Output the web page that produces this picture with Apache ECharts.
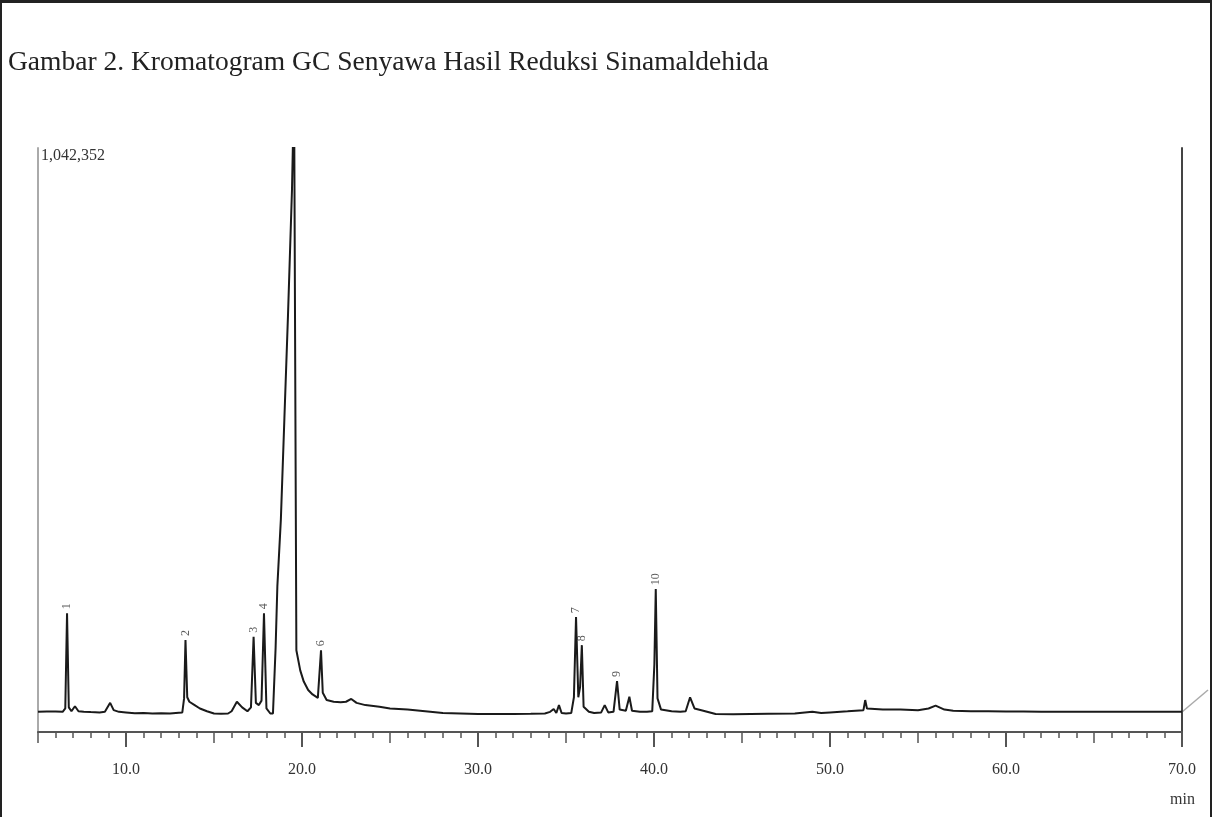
<!DOCTYPE html>
<html><head><meta charset="utf-8">
<script src="https://cdn.jsdelivr.net/npm/echarts@6/dist/echarts.min.js"></script>
<style>
html,body{margin:0;padding:0;background:#fff;}
#frame{position:absolute;left:0;top:0;width:1212px;height:817px;box-sizing:border-box;border-top:3px solid #222;border-left:2px solid #222;border-right:2px solid #222;}
#chart{position:absolute;left:0;top:0;width:1212px;height:817px;}
</style></head>
<body>
<div id="frame"></div>
<div id="chart"></div>
<script>
// Chromatogram trace: [retention time (min), detector response (counts)], by section
const traceEarly = [
  [5.0,36000],[5.5,36500],[6.0,36500],[6.4,36000],[6.55,42000],[6.65,212000],[6.75,44000],[6.9,37000],
  [7.1,46000],[7.3,37000],[7.6,36000],[8.0,35500],[8.5,35000],[8.8,36000],[9.1,52000],[9.3,39000],
  [9.6,36000],[10.0,35000],[10.5,33500],[11.0,34000],[11.5,33000],[12.0,33500],[12.5,33000],[13.0,34500],
  [13.2,35000],[13.3,60000],[13.38,164000],[13.48,62000],[13.6,54000],[13.9,48000],[14.2,42000],[14.6,37000],
  [15.0,33000],[15.4,32500],[15.8,33000],[16.0,37000],[16.3,54000],[16.6,44000],[16.9,37000],[17.1,44000],
  [17.25,170000],[17.38,52000],[17.55,48000],[17.7,56000],[17.84,212000],[17.98,42000],[18.2,33000],[18.35,33000]
];
const traceMain = [
  [18.45,34000],[18.5,150000],[18.6,260000],[18.8,380000],[19.0,560000],[19.2,740000],[19.43,967000],
  [19.55,1150000],[19.64,1150000],[19.68,146000],[19.9,110000],[20.1,90000],[20.35,75000],[20.6,67000],
  [20.9,61000],[21.0,64000],[21.08,146000],[21.18,70000],[21.4,57000],[21.8,54000],[22.2,53000],
  [22.5,54000],[22.8,59000],[23.1,52000],[23.6,48000],[24.4,45000]
];
const traceMiddle = [
  [25.0,42000],[26.0,40000],[27.0,37000],[28.0,34000],[29.0,33000],[30.0,32000],[31.0,32000],[32.0,32000],
  [33.0,32500],[33.8,33000],[34.1,36000],[34.3,41000],[34.45,34000],[34.6,48000],[34.75,34000],[35.0,33000],
  [35.3,34000],[35.45,62000],[35.57,205000],[35.7,62000],[35.8,80000],[35.9,155000],[36.0,45000],[36.3,36000],
  [36.6,34000],[37.0,35000],[37.2,48000],[37.4,35000],[37.7,36000],[37.9,91000],[38.05,40000],[38.4,38000],
  [38.6,63000],[38.75,38000],[39.2,36000],[39.6,36000],[39.9,37000],[40.02,120000],[40.1,255000],[40.2,60000],
  [40.4,40000],[41.0,37000],[41.5,36000],[41.8,37000],[42.05,62000],[42.3,42000],[42.8,38000],[43.5,32000]
];
const traceLate = [
  [44.5,31500],[45.5,32000],[46.5,32500],[48.0,33000],[49.0,36000],[49.5,34000],[50.0,35000],[51.0,37000],
  [51.9,39000],[52.0,57000],[52.1,42000],[53.0,40000],[54.0,40000],[55.0,39000],[55.6,42000],[56.0,47000],
  [56.5,40000],[57.0,38000],[58.0,37000],[59.0,37000],[60.0,36500],[61.0,36500],[62.0,36000],[63.0,36000],
  [64.0,36000],[65.0,36000],[66.0,36000],[67.0,36000],[68.0,36000],[69.0,36000],[70.0,36000]
];
// Numbered peaks
const peakTime = [6.65,13.38,17.25,17.84,21.08,35.57,35.9,37.9,40.1];
const peakSignal = [212000,164000,170000,212000,146000,205000,155000,91000,255000];
const peakNames = ['1','2','3','4','6','7','8','9','10'];
// Axis texts
const yMaxValue = 1042352;
const yMaxLabel = '1,042,352';
const majorTicks = [10,20,30,40,50,60,70];
const halfTicks = [5,15,25,35,45,55,65];
const titleText = 'Gambar 2. Kromatogram GC Senyawa Hasil Reduksi Sinamaldehida';
const unitText = 'min';

const chart = echarts.init(document.getElementById('chart'));
const serif = 'Liberation Serif';
const lineData = traceEarly.concat(traceMain, traceMiddle, traceLate);
const peakData = peakTime.map((t,i)=>({value:[t, peakSignal[i]], name: peakNames[i]}));
const gridPos = {left:38, right:30, top:148, bottom:85};
const baseX = {type:'value', min:5, max:70, gridIndex:0, position:'bottom', splitLine:{show:false}};
chart.setOption({
  animation:false,
  backgroundColor:'transparent',
  title:{text:titleText, left:3, top:44, textStyle:{fontFamily:serif, fontSize:27.5, fontWeight:'normal', color:'#222'}},
  grid:gridPos,
  xAxis:[
    Object.assign({}, baseX, {
      axisLine:{show:true, lineStyle:{color:'#555', width:2}},
      axisTick:{show:true, customValues:majorTicks, length:15, lineStyle:{color:'#555', width:2}},
      axisLabel:{show:true, customValues:majorTicks, formatter:v=>v.toFixed(1), margin:30, fontFamily:serif, fontSize:16, color:'#333'}
    }),
    Object.assign({}, baseX, {
      interval:1,
      axisLine:{show:false},
      axisTick:{show:true, length:6, lineStyle:{color:'#555', width:1.5}},
      axisLabel:{show:false}
    }),
    Object.assign({}, baseX, {
      axisLine:{show:false},
      axisTick:{show:true, customValues:halfTicks, length:11, lineStyle:{color:'#555', width:1.5}},
      axisLabel:{show:false}
    })
  ],
  yAxis:[
    {type:'value', min:0, max:yMaxValue, position:'left', splitLine:{show:false},
     axisLine:{show:true, lineStyle:{color:'#aaa', width:2}},
     axisTick:{show:false},
     axisLabel:{show:true, inside:true, customValues:[yMaxValue], formatter:()=>yMaxLabel, margin:3, verticalAlign:'top', fontFamily:serif, fontSize:16, color:'#333'}},
    {type:'value', min:0, max:yMaxValue, position:'right', splitLine:{show:false},
     axisLine:{show:true, lineStyle:{color:'#444', width:2}},
     axisTick:{show:false}, axisLabel:{show:false}}
  ],
  graphic:[
    {type:'text', left:1170, top:792, style:{text:unitText, fontFamily:serif, fontSize:16, fill:'#333'}},
    {type:'line', shape:{x1:1182, y1:712, x2:1208, y2:690}, style:{stroke:'#aaa', lineWidth:1.5}}
  ],
  series:[
    {type:'line', data:lineData, showSymbol:false, symbol:'none', clip:true,
     lineStyle:{color:'#1a1a1a', width:2}, z:3},
    {type:'scatter', data:peakData, symbolSize:0, silent:true,
     label:{show:true, formatter:p=>p.name, position:'top', distance:4, rotate:90, align:'left', verticalAlign:'middle', fontFamily:serif, fontSize:12, color:'#333'}}
  ]
});
</script>
</body></html>
